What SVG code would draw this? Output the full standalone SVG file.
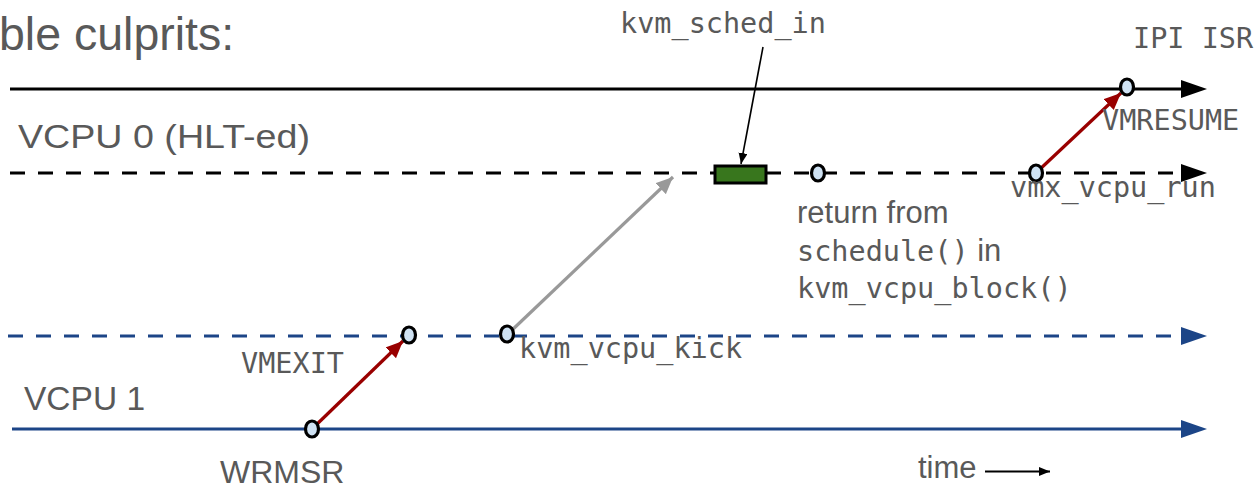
<svg xmlns="http://www.w3.org/2000/svg" width="1257" height="488" viewBox="0 0 1257 488">
  <style>
    .t { fill: #595959; font-family: "Liberation Sans", Arial, sans-serif; }
    .m { fill: #595959; font-family: "DejaVu Sans Mono", "Liberation Mono", monospace; font-size: 28.5px; }
    .pt { stroke: #000; stroke-width: 3.2; fill: #cfe2f3; }
  </style>
  <defs>
    <marker id="ahRed" markerUnits="userSpaceOnUse" markerWidth="20" markerHeight="16" refX="17" refY="7.5" orient="auto">
      <path d="M0,0 L17,7.5 L0,15 Z" fill="#990000"/>
    </marker>
    <marker id="ahGray" markerUnits="userSpaceOnUse" markerWidth="20" markerHeight="16" refX="17" refY="7.5" orient="auto">
      <path d="M0,0 L17,7.5 L0,15 Z" fill="#999999"/>
    </marker>
    <marker id="ahBlk" markerUnits="userSpaceOnUse" markerWidth="12" markerHeight="10" refX="11" refY="4.5" orient="auto">
      <path d="M0,0 L11,4.5 L0,9 Z" fill="#000"/>
    </marker>
  </defs>

  <rect width="1257" height="488" fill="#fff"/>

  <!-- title fragment -->
  <text class="t" x="-1" y="50" font-size="46.5">ble culprits:</text>

  <!-- timelines -->
  <g id="timelines">
    <line x1="10" y1="89" x2="1184" y2="89" stroke="#000" stroke-width="3.2"/>
    <polygon points="1181,80 1207,89 1181,98" fill="#000"/>
    <line x1="10" y1="173" x2="1180" y2="173" stroke="#000" stroke-width="3.2" stroke-dasharray="15 13"/>
    <polygon points="1181,164 1207,173 1181,182" fill="#000"/>
    <line x1="8" y1="336" x2="1178" y2="336" stroke="#1c4587" stroke-width="3.2" stroke-dasharray="15 13"/>
    <polygon points="1181,327 1207,336 1181,345" fill="#1c4587"/>
    <line x1="12" y1="429" x2="1184" y2="429" stroke="#1c4587" stroke-width="3.2"/>
    <polygon points="1181,420 1207,429 1181,438" fill="#1c4587"/>
  </g>

  <!-- connectors -->
  <g id="connectors">
    <line x1="314" y1="427" x2="403" y2="341" stroke="#990000" stroke-width="3.2" marker-end="url(#ahRed)"/>
    <line x1="1038" y1="171" x2="1121" y2="93" stroke="#990000" stroke-width="3.2" marker-end="url(#ahRed)"/>
    <line x1="510" y1="332" x2="673" y2="177" stroke="#999999" stroke-width="3.2" marker-end="url(#ahGray)"/>
    <line x1="763" y1="47" x2="741" y2="164" stroke="#000" stroke-width="1.6" marker-end="url(#ahBlk)"/>
    <line x1="985" y1="471.5" x2="1050" y2="471.5" stroke="#000" stroke-width="2" marker-end="url(#ahBlk)"/>
  </g>

  <!-- nodes -->
  <g id="n-ipi-isr"><ellipse class="pt" cx="1127" cy="87" rx="6.5" ry="8"/></g>
  <g id="n-sched-in"><rect x="715" y="166" width="51" height="17" fill="#38761d" stroke="#000" stroke-width="3"/></g>
  <g id="n-return"><ellipse class="pt" cx="818" cy="173" rx="6.5" ry="8"/></g>
  <g id="n-vmx-run"><ellipse class="pt" cx="1036" cy="173" rx="6.5" ry="8"/></g>
  <g id="n-vmexit"><ellipse class="pt" cx="409" cy="335" rx="6.5" ry="8"/></g>
  <g id="n-kick"><ellipse class="pt" cx="507" cy="334" rx="6.5" ry="8"/></g>
  <g id="n-wrmsr"><ellipse class="pt" cx="312" cy="429" rx="6.5" ry="8"/></g>

  <!-- labels -->
  <g id="labels">
    <text class="t" x="18" y="148" font-size="34" textLength="292" lengthAdjust="spacingAndGlyphs">VCPU 0 (HLT-ed)</text>
    <text class="t" x="24" y="410" font-size="33.5">VCPU 1</text>
    <text class="m" x="620" y="33">kvm_sched_in</text>
    <text class="m" x="1133" y="48">IPI ISR</text>
    <text class="m" x="1102" y="130">VMRESUME</text>
    <text class="m" x="1010" y="197">vmx_vcpu_run</text>
    <text class="t" x="797" y="222.5" font-size="31">return from</text>
    <text x="797" y="260.5"><tspan class="m">schedule()</tspan><tspan class="t" font-size="31"> in</tspan></text>
    <text class="m" x="797" y="297.5">kvm_vcpu_block()</text>
    <text class="m" x="241" y="372.5">VMEXIT</text>
    <text class="m" x="519" y="358">kvm_vcpu_kick</text>
    <text class="t" x="220" y="483" font-size="32">WRMSR</text>
    <text class="t" x="918" y="478" font-size="31">time</text>
  </g>
</svg>
